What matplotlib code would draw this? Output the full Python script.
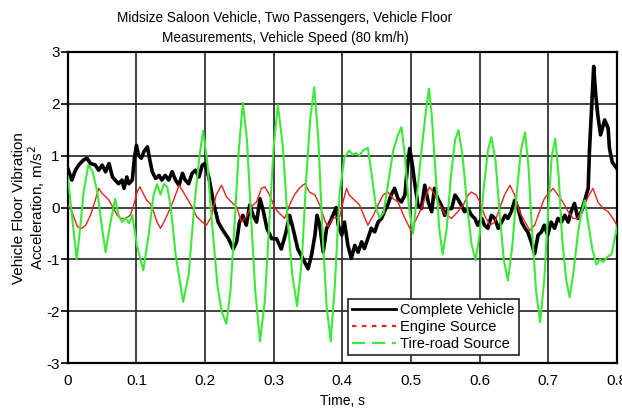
import matplotlib
matplotlib.use("Agg")
import matplotlib.pyplot as plt
from matplotlib.lines import Line2D

plt.rcParams['font.family'] = ['Liberation Sans', 'DejaVu Sans']
plt.rcParams['axes.unicode_minus'] = False

# complete vehicle (black)
black_t = [0.000, 0.006, 0.011, 0.016, 0.023, 0.028, 0.033, 0.040, 0.045, 0.050,
           0.055, 0.060, 0.065, 0.069, 0.074, 0.079, 0.082, 0.086, 0.089, 0.094,
           0.097, 0.100, 0.103, 0.107, 0.111, 0.116, 0.119, 0.123, 0.128, 0.133,
           0.137, 0.142, 0.147, 0.152, 0.157, 0.162, 0.167, 0.171, 0.176, 0.181,
           0.186, 0.191, 0.196, 0.200, 0.206, 0.212, 0.219, 0.226, 0.234, 0.241,
           0.246, 0.250, 0.255, 0.260, 0.265, 0.270, 0.275, 0.280, 0.285, 0.290,
           0.297, 0.304, 0.311, 0.318, 0.323, 0.328, 0.335, 0.343, 0.350, 0.355,
           0.360, 0.363, 0.367, 0.372, 0.377, 0.382, 0.386, 0.391, 0.394, 0.399,
           0.403, 0.408, 0.413, 0.418, 0.423, 0.428, 0.432, 0.437, 0.442, 0.447,
           0.452, 0.457, 0.461, 0.466, 0.471, 0.476, 0.481, 0.486, 0.491, 0.495,
           0.498, 0.502, 0.505, 0.510, 0.515, 0.520, 0.525, 0.530, 0.534, 0.539,
           0.544, 0.549, 0.554, 0.559, 0.564, 0.568, 0.573, 0.578, 0.583, 0.588,
           0.593, 0.597, 0.603, 0.607, 0.612, 0.617, 0.622, 0.627, 0.632, 0.637,
           0.641, 0.646, 0.651, 0.656, 0.661, 0.666, 0.670, 0.675, 0.680, 0.685,
           0.690, 0.694, 0.699, 0.704, 0.709, 0.714, 0.719, 0.724, 0.729, 0.733,
           0.738, 0.743, 0.748, 0.753, 0.758, 0.760, 0.764, 0.766, 0.769, 0.772,
           0.776, 0.782, 0.787, 0.789, 0.793, 0.796, 0.800]
black_v = [0.75, 0.53, 0.72, 0.82, 0.92, 0.95, 0.85, 0.82, 0.72, 0.82,
           0.69, 0.85, 0.59, 0.53, 0.46, 0.53, 0.37, 0.59, 0.46, 0.53,
           0.95, 1.20, 1.01, 0.95, 1.08, 1.17, 0.95, 0.69, 0.56, 0.62,
           0.53, 0.62, 0.53, 0.69, 0.53, 0.43, 0.66, 0.53, 0.46, 0.66,
           0.72, 0.59, 0.82, 0.85, 0.55, 0.11, -0.28, -0.44, -0.60, -0.80,
           -0.66, -0.28, -0.15, -0.34, 0.05, -0.15, -0.28, 0.17, -0.08, -0.40,
           -0.60, -0.60, -0.80, -0.47, -0.15, -0.40, -0.80, -1.00, -1.18, -0.92,
           -0.53, -0.15, -0.34, -0.86, -0.40, -0.28, -0.15, 0.00, -0.34, -0.53,
           -0.28, -0.73, -0.98, -0.73, -0.86, -0.66, -0.79, -0.60, -0.40, -0.47,
           -0.28, -0.21, -0.08, 0.05, 0.24, 0.37, 0.17, 0.11, 0.24, 0.82,
           1.14, 0.82, 0.50, 0.05, -0.02, 0.43, 0.11, -0.08, 0.37, 0.17,
           0.05, -0.15, -0.02, -0.02, 0.24, 0.17, 0.05, -0.08, -0.02, -0.15,
           -0.21, -0.34, -0.21, -0.34, -0.40, -0.15, -0.21, -0.40, -0.28, -0.15,
           -0.21, -0.08, 0.14, -0.02, -0.28, -0.40, -0.47, -0.66, -0.89, -0.53,
           -0.47, -0.34, -0.53, -0.28, -0.40, -0.21, -0.28, -0.15, -0.28, -0.08,
           0.08, -0.21, -0.08, 0.14, 0.37, 1.14, 2.17, 2.72, 2.17, 1.78,
           1.40, 1.69, 1.53, 1.14, 0.88, 0.82, 0.75]

# engine source (red)
red_t = [0.000, 0.006, 0.014, 0.021, 0.026, 0.033, 0.040, 0.045, 0.050, 0.055,
         0.060, 0.067, 0.072, 0.077, 0.084, 0.091, 0.096, 0.101, 0.105, 0.111,
         0.115, 0.120, 0.125, 0.130, 0.135, 0.140, 0.147, 0.154, 0.162, 0.167,
         0.174, 0.181, 0.188, 0.196, 0.202, 0.209, 0.216, 0.224, 0.231, 0.238,
         0.246, 0.253, 0.260, 0.267, 0.275, 0.282, 0.287, 0.294, 0.302, 0.309,
         0.316, 0.323, 0.330, 0.337, 0.345, 0.352, 0.360, 0.367, 0.374, 0.379,
         0.386, 0.396, 0.401, 0.406, 0.410, 0.418, 0.425, 0.432, 0.437, 0.445,
         0.452, 0.459, 0.466, 0.474, 0.481, 0.489, 0.496, 0.500, 0.508, 0.515,
         0.522, 0.527, 0.535, 0.542, 0.549, 0.559, 0.568, 0.576, 0.583, 0.588,
         0.595, 0.600, 0.607, 0.615, 0.622, 0.629, 0.636, 0.644, 0.651, 0.658,
         0.666, 0.673, 0.680, 0.687, 0.694, 0.702, 0.707, 0.714, 0.721, 0.729,
         0.736, 0.743, 0.750, 0.758, 0.765, 0.772, 0.780, 0.787, 0.794, 0.800]
red_v = [0.05, -0.08, -0.37, -0.40, -0.34, -0.15, 0.14, 0.37, 0.27, 0.21,
         0.14, -0.02, -0.15, -0.21, -0.21, -0.15, 0.05, 0.30, 0.40, 0.24,
         0.14, 0.08, -0.08, -0.28, -0.40, -0.28, -0.08, 0.14, 0.43, 0.33,
         0.17, 0.01, -0.18, -0.28, -0.34, -0.18, 0.24, 0.43, 0.21, 0.11,
         0.01, -0.28, -0.18, 0.01, 0.11, 0.37, 0.40, 0.24, -0.02, -0.12,
         -0.21, 0.05, 0.24, 0.37, 0.46, 0.30, 0.24, 0.05, -0.24, -0.37,
         -0.21, -0.18, 0.11, 0.37, 0.24, 0.14, 0.05, -0.18, -0.34, -0.15,
         0.05, 0.24, 0.30, 0.17, 0.11, -0.15, -0.34, -0.44, -0.21, -0.02,
         0.24, 0.40, 0.24, 0.05, -0.12, -0.21, -0.08, 0.05, 0.24, 0.30,
         0.24, 0.11, -0.15, -0.34, -0.28, -0.02, 0.24, 0.43, 0.24, -0.08,
         -0.28, -0.44, -0.34, -0.08, 0.17, 0.30, 0.37, 0.24, 0.11, -0.08,
         -0.21, -0.21, -0.02, 0.21, 0.37, 0.11, -0.02, -0.08, -0.21, -0.34]

# tire-road source (green)
green_t = [0.000, 0.006, 0.013, 0.018, 0.023, 0.030, 0.036, 0.043, 0.050, 0.055,
           0.062, 0.069, 0.074, 0.079, 0.084, 0.089, 0.094, 0.101, 0.110, 0.118,
           0.125, 0.130, 0.135, 0.140, 0.145, 0.150, 0.157, 0.168, 0.176, 0.184,
           0.191, 0.197, 0.203, 0.210, 0.218, 0.224, 0.231, 0.237, 0.243, 0.249,
           0.255, 0.261, 0.267, 0.273, 0.280, 0.287, 0.294, 0.300, 0.306, 0.313,
           0.320, 0.327, 0.334, 0.341, 0.347, 0.353, 0.359, 0.365, 0.371, 0.377,
           0.383, 0.389, 0.396, 0.403, 0.410, 0.415, 0.420, 0.425, 0.430, 0.437,
           0.443, 0.449, 0.454, 0.460, 0.467, 0.474, 0.481, 0.486, 0.491, 0.497,
           0.503, 0.509, 0.516, 0.522, 0.526, 0.530, 0.536, 0.541, 0.546, 0.552,
           0.558, 0.564, 0.569, 0.575, 0.582, 0.588, 0.594, 0.600, 0.606, 0.612,
           0.617, 0.623, 0.629, 0.635, 0.641, 0.647, 0.654, 0.660, 0.666, 0.671,
           0.676, 0.682, 0.688, 0.694, 0.700, 0.705, 0.710, 0.715, 0.720, 0.726,
           0.731, 0.737, 0.743, 0.748, 0.753, 0.758, 0.764, 0.770, 0.775, 0.780,
           0.786, 0.792, 0.800]
green_v = [0.60, -0.15, -1.00, -0.40, 0.30, 0.82, 0.70, 0.30, -0.40, -0.86,
           -0.30, 0.17, -0.15, -0.28, -0.20, -0.30, -0.15, -0.75, -1.21, -0.50,
           0.25, 0.45, 0.25, 0.45, 0.40, 0.00, -0.90, -1.82, -1.30, 0.00,
           0.90, 1.48, 0.90, -0.30, -1.50, -2.00, -2.24, -1.60, -0.30, 1.10,
           2.02, 1.30, -0.20, -1.60, -2.58, -1.80, -0.20, 1.20, 1.98, 1.20,
           -0.20, -1.30, -1.90, -1.00, 0.50, 1.70, 2.32, 1.30, -0.50, -1.90,
           -2.58, -1.50, 0.30, 0.97, 1.10, 1.02, 1.05, 1.00, 1.10, 1.15,
           0.60, 0.00, -0.20, -0.10, 0.50, 1.10, 1.40, 1.55, 1.00, 0.00,
           -0.50, 0.30, 1.20, 1.90, 2.29, 1.80, 0.60, -0.40, -0.90, -0.40,
           0.60, 1.30, 1.49, 1.00, 0.00, -0.70, -1.02, -0.50, 0.40, 1.10,
           1.36, 0.90, -0.10, -1.00, -1.41, -0.80, 0.30, 1.10, 1.45, 0.80,
           -0.40, -1.60, -2.21, -1.40, 0.00, 1.00, 1.33, 0.60, -0.60, -1.40,
           -1.73, -1.20, -0.50, -0.10, 0.14, -0.30, -0.80, -1.10, -1.00, -1.05,
           -0.95, -0.90, -0.38]

x_ticks = [0, 0.1, 0.2, 0.3, 0.4, 0.5, 0.6, 0.7, 0.8]
x_tick_labels = ['0', '0.1', '0.2', '0.3', '0.4', '0.5', '0.6', '0.7', '0.8']
y_ticks = [-3, -2, -1, 0, 1, 2, 3]

c_black = '#000000'
c_red = '#e8231f'
c_green = '#3ee83a'

fig = plt.figure(figsize=(6.22, 4.09), dpi=100)
ax = fig.add_axes([0.109, 0.112, 0.883, 0.761])

ax.plot(black_t, black_v, color=c_black, lw=2.6, zorder=3)
ax.plot(red_t, red_v, color=c_red, lw=1.0, zorder=4)
ax.plot(green_t, green_v, color=c_green, lw=1.5, zorder=5)

ax.set_xlim(0, 0.8)
ax.set_ylim(-3, 3)
ax.set_xticks(x_ticks)
ax.set_xticklabels(x_tick_labels)
ax.set_yticks(y_ticks)
ax.tick_params(axis='y', direction='out', length=5, width=1.2, labelsize=11, pad=1)
ax.tick_params(axis='x', length=0, labelsize=11, pad=8)
ax.grid(True, color='#333333', lw=1.3)
ax.set_axisbelow(True)
for s in ax.spines.values():
    s.set_linewidth(1.6)

ax.set_xlabel('Time, s', fontsize=10, labelpad=4)
ax.set_ylabel('Vehicle Floor Vibration\nAcceleration, m/s$^2$', fontsize=11,
              labelpad=-1, linespacing=1.05)

fig.text(0.458, 0.932, 'Midsize Saloon Vehicle, Two Passengers, Vehicle Floor\n'
         'Measurements, Vehicle Speed (80 km/h)', ha='center', va='center',
         fontsize=9.8, linespacing=1.5)

handles = [Line2D([], [], color=c_black, lw=2.0),
           Line2D([], [], color=c_red, lw=1.6, ls=(0, (2, 2.5))),
           Line2D([], [], color=c_green, lw=1.6, ls=(0, (6, 3)))]
labels = ['Complete Vehicle', 'Engine Source', 'Tire-road Source']
leg = ax.legend(handles, labels, loc='lower left', bbox_to_anchor=(0.51, 0.026),
                fontsize=10.5, frameon=True, fancybox=False, framealpha=1,
                edgecolor='#222222', handlelength=3.0, handletextpad=0.3,
                borderpad=0.3, labelspacing=0.2, borderaxespad=0)
leg.get_frame().set_linewidth(1.2)
leg.set_zorder(10)

fig.savefig('out.png', dpi=100)
